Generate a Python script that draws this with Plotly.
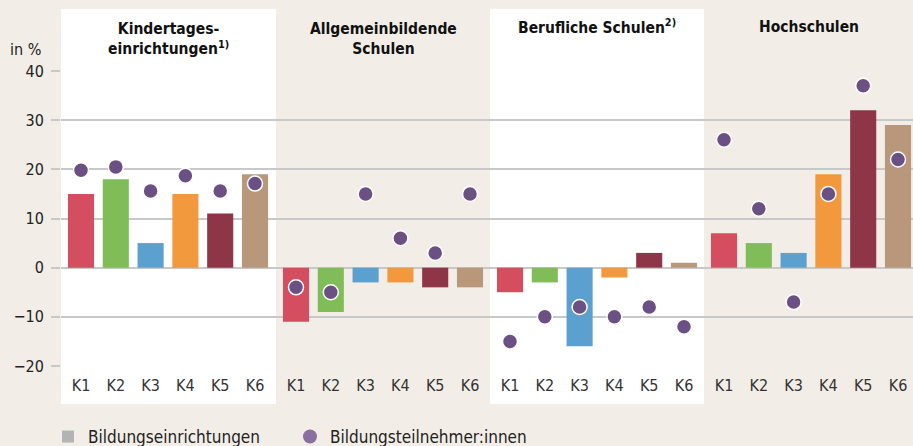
import plotly.graph_objects as go
from plotly.subplots import make_subplots

# ---- data ----
panels = ["Kindertages-<br>einrichtungen<sup>1)</sup>", "Allgemeinbildende<br>Schulen",
          "Berufliche Schulen<sup>2)</sup>", "Hochschulen"]
categories = ["K1", "K2", "K3", "K4", "K5", "K6"]
einrichtungen = [
    [15, 18, 5, 15, 11, 19],
    [-11, -9, -3, -3, -4, -4],
    [-5, -3, -16, -2, 3, 1],
    [7, 5, 3, 19, 32, 29],
]
teilnehmer = [
    [19.8, 20.5, 15.6, 18.7, 15.6, 17.1],
    [-4, -5, 15, 6, 3, 15],
    [-15, -10, -8, -10, -8, -12],
    [26, 12, -7, 15, 37, 22],
]
y_ticks = [-20, -10, 0, 10, 20, 30, 40]
y_ticktext = ["\u221220", "\u221210", "0", "10", "20", "30", "40"]
legend_names = ["Bildungseinrichtungen", "Bildungsteilnehmer:innen"]

# ---- style ----
bar_colors = ["#d44e5f", "#80bc58", "#5ba0cf", "#f2993e", "#8e3548", "#b8977a"]
dot_color = "#6b5084"
bg = "#f2eee7"
grid = "#c8c8c8"
FONT = "DejaVu Sans Condensed, Roboto Condensed, Liberation Sans Narrow, DejaVu Sans, sans-serif"

W, H = 913, 446
ML, MR, MT, MB = 61, 0, 71, 80
pw = W - ML - MR
ph = H - MT - MB
bounds = [61, 276, 490, 704, 913]
domains = [[(bounds[i] - ML) / pw, (bounds[i + 1] - ML) / pw] for i in range(4)]
unit = 34.8
xranges = [[-20 / unit, 5 + (bounds[i + 1] - (bounds[i] + 20 + 5 * unit)) / unit] for i in range(4)]

fig = make_subplots(rows=1, cols=4, shared_yaxes=True, horizontal_spacing=0)

for i in range(4):
    fig.add_trace(go.Bar(x=categories, y=einrichtungen[i], marker=dict(color=bar_colors, line=dict(width=0)),
                         width=0.75, showlegend=False, hoverinfo="y"), row=1, col=i + 1)
    fig.add_trace(go.Scatter(x=categories, y=teilnehmer[i], mode="markers",
                             marker=dict(color=dot_color, size=15, line=dict(color="white", width=1.5)),
                             showlegend=False, hoverinfo="y"), row=1, col=i + 1)

# legend entries
fig.add_trace(go.Bar(x=[None], y=[None], name=legend_names[0],
                     marker=dict(color="#b3b3b3", line=dict(width=0)), showlegend=True), row=1, col=1)
fig.add_trace(go.Scatter(x=[None], y=[None], name=legend_names[1], mode="markers",
                         marker=dict(color="#8b6f9e", size=14), showlegend=True), row=1, col=1)

header_y = [18, 18, 27, 27]
for i in range(4):
    ax = "xaxis" if i == 0 else f"xaxis{i + 1}"
    fig.layout[ax].update(domain=domains[i], range=xranges[i], type="category", automargin=False,
                          showgrid=False, zeroline=False, showline=False, ticks="",
                          tickfont=dict(family=FONT, size=16, color="#333333"),
                          ticklabelstandoff=8, fixedrange=True)
    yax = "yaxis" if i == 0 else f"yaxis{i + 1}"
    fig.layout[yax].update(range=[-20, 40], tickvals=y_ticks, showgrid=True, gridcolor=grid, gridwidth=2,
                           zeroline=False, showline=False, automargin=False, fixedrange=True)
    xd = f"x{'' if i == 0 else i + 1} domain"
    if i % 2 == 0:
        fig.add_shape(type="rect", xref=xd, yref="paper",
                      x0=0, x1=1, y0=-(404 - (H - MB)) / ph, y1=1 + (MT - 9) / ph,
                      fillcolor="white", line=dict(width=0), layer="below")
    two = "<br>" in panels[i]
    fig.add_annotation(xref=xd, yref="paper", x=0.5,
                       y=1 + (MT - header_y[i]) / ph, yanchor="top" if two else "middle",
                       text=panels[i], showarrow=False,
                       font=dict(family=FONT, size=15.5, color="#111111", weight="bold"))

fig.layout.yaxis.update(ticktext=y_ticktext, ticks="outside", ticklen=9, tickwidth=2, tickcolor=grid,
                        tickfont=dict(family=FONT, size=16, color="#222222"), ticklabelstandoff=4)

fig.add_annotation(xref="paper", yref="paper", x=-(ML - 43) / pw, y=1 + (MT - 49) / ph,
                   xanchor="right", yanchor="middle", text="in %", showarrow=False,
                   font=dict(family=FONT, size=16, color="#222222"))

fig.update_layout(
    width=W, height=H, margin=dict(l=ML, r=MR, t=MT, b=MB, autoexpand=False),
    paper_bgcolor=bg, plot_bgcolor=bg, barmode="overlay",
    font=dict(family=FONT, color="#222222"),
    legend=dict(orientation="h", xref="container", yref="container", x=48 / W, xanchor="left",
                y=(H - 437) / H, yanchor="middle",
                font=dict(family=FONT, size=17, color="#222222"), entrywidth=197, entrywidthmode="pixels",
                bgcolor="rgba(0,0,0,0)"),
)

fig.write_html("out.html", config={"displayModeBar": False},
               post_script="document.body.style.margin='0';document.body.style.padding='0';"
                           "document.body.style.overflow='hidden';")
